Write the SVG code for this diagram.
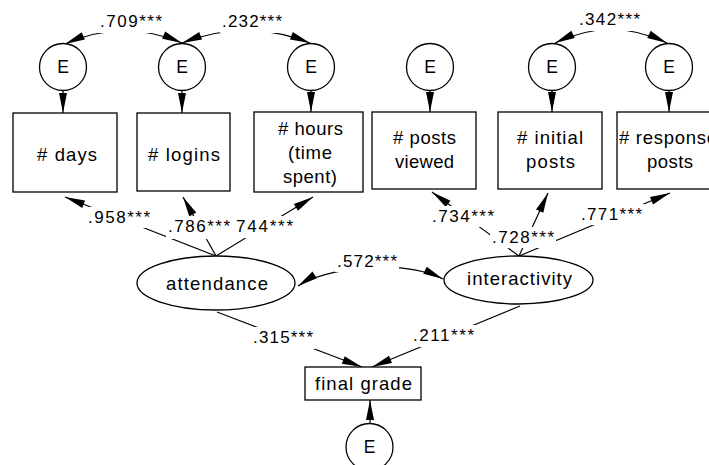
<svg xmlns="http://www.w3.org/2000/svg" width="709" height="465" viewBox="0 0 709 465">
<defs>
<style>
.box{fill:#fff;stroke:#000;stroke-width:1.3}
.t{font-family:"Liberation Sans",Arial,sans-serif;font-size:18.5px;fill:#000}
.e{font-family:"Liberation Sans",Arial,sans-serif;font-size:17.5px;fill:#000;text-anchor:middle}
.lab{font-family:"Liberation Sans",Arial,sans-serif;font-size:17px;fill:#000}
.mask{fill:#fff}
.c{fill:none;stroke:#000;stroke-width:1.2}
.arr{marker-end:url(#ah)}
.cov{marker-start:url(#ah);marker-end:url(#ah)}
</style>
<marker id="ah" markerUnits="userSpaceOnUse" markerWidth="21" markerHeight="9" refX="20" refY="4" orient="auto-start-reverse" overflow="visible"><path d="M0,0 L20,4 L0,8 Z" fill="#000"/></marker>
</defs>
<rect width="709" height="465" fill="#fff"/>
<g id="connectors">
<path class="c arr" d="M63 91 L63 113"/>
<path class="c arr" d="M182 91 L182 113"/>
<path class="c arr" d="M311 91 L311 112"/>
<path class="c arr" d="M430 91 L430 112"/>
<path class="c arr" d="M552 91 L552 112"/>
<path class="c arr" d="M669 91 L669 112"/>
<path class="c arr" d="M216 256 L65 197"/>
<path class="c arr" d="M216 256 L183 197"/>
<path class="c arr" d="M216 256 L313 197"/>
<path class="c arr" d="M519 256 L432 192"/>
<path class="c arr" d="M519 256 L548 193"/>
<path class="c arr" d="M519 256 L670 193"/>
<path class="c arr" d="M217 312 L362 367"/>
<path class="c arr" d="M520 306 L372 367"/>
<path class="c arr" d="M370 424 L370 400"/>
<path class="c cov" d="M65 44 Q124 18 182 43"/>
<path class="c cov" d="M182 43 Q246 18 310 43"/>
<path class="c cov" d="M555 43 Q611 16 667 43"/>
<path class="c cov" d="M298 286 C325 268 400 258 443 279"/>
</g>
<g id="labels">
<rect class="mask" x="98" y="11" width="66" height="22"/><text class="lab" x="100" y="27" textLength="62" lengthAdjust="spacing">.709***</text>
<rect class="mask" x="220" y="11" width="64" height="22"/><text class="lab" x="222" y="27" textLength="60" lengthAdjust="spacing">.232***</text>
<rect class="mask" x="577" y="9" width="65" height="22"/><text class="lab" x="579" y="25" textLength="61" lengthAdjust="spacing">.342***</text>
<rect class="mask" x="86" y="207" width="66" height="21"/><text class="lab" x="88" y="223" textLength="62" lengthAdjust="spacing">.958***</text>
<rect class="mask" x="166" y="216" width="66" height="23"/><text class="lab" x="168" y="232" textLength="62" lengthAdjust="spacing">.786***</text>
<rect class="mask" x="234" y="216" width="61" height="22"/><text class="lab" x="236" y="232" textLength="57" lengthAdjust="spacing">744***</text>
<rect class="mask" x="430" y="206" width="66" height="21"/><text class="lab" x="432" y="222" textLength="62" lengthAdjust="spacing">.734***</text>
<rect class="mask" x="490" y="227" width="66" height="21"/><text class="lab" x="492" y="243" textLength="62" lengthAdjust="spacing">.728***</text>
<rect class="mask" x="579" y="204" width="65" height="21"/><text class="lab" x="581" y="220" textLength="61" lengthAdjust="spacing">.771***</text>
<rect class="mask" x="335" y="251" width="64" height="21"/><text class="lab" x="337" y="267" textLength="60" lengthAdjust="spacing">.572***</text>
<rect class="mask" x="251" y="327" width="64" height="22"/><text class="lab" x="253" y="343" textLength="60" lengthAdjust="spacing">.315***</text>
<rect class="mask" x="411" y="325" width="65" height="22"/><text class="lab" x="413" y="341" textLength="61" lengthAdjust="spacing">.211***</text>
</g>
<g id="e1"><circle class="box" cx="63" cy="67" r="23.5"/><text class="e" x="63" y="73">E</text></g>
<g id="e2"><circle class="box" cx="182" cy="67" r="23.5"/><text class="e" x="182" y="73">E</text></g>
<g id="e3"><circle class="box" cx="311" cy="67" r="23.5"/><text class="e" x="311" y="73">E</text></g>
<g id="e4"><circle class="box" cx="430" cy="67" r="23.5"/><text class="e" x="430" y="73">E</text></g>
<g id="e5"><circle class="box" cx="552" cy="67" r="23.5"/><text class="e" x="552" y="73">E</text></g>
<g id="e6"><circle class="box" cx="669" cy="67" r="23.5"/><text class="e" x="669" y="73">E</text></g>
<g id="days"><rect class="box" x="13" y="113" width="104" height="79"/><text class="t" x="37" y="161" textLength="60" lengthAdjust="spacing"># days</text></g>
<g id="logins"><rect class="box" x="137" y="113" width="93" height="78"/><text class="t" x="148" y="161" textLength="72" lengthAdjust="spacing"># logins</text></g>
<g id="hours"><rect class="box" x="254" y="112" width="109" height="80"/><text class="t" x="278" y="135" textLength="65" lengthAdjust="spacing"># hours</text><text class="t" x="288" y="159" textLength="44" lengthAdjust="spacing">(time</text><text class="t" x="283" y="183" textLength="54" lengthAdjust="spacing">spent)</text></g>
<g id="posts_viewed"><rect class="box" x="372" y="112" width="104" height="77"/><text class="t" x="393" y="144" textLength="63" lengthAdjust="spacing"># posts</text><text class="t" x="395" y="168" textLength="59" lengthAdjust="spacing">viewed</text></g>
<g id="initial_posts"><rect class="box" x="498" y="112" width="104" height="77"/><text class="t" x="517" y="144" textLength="66" lengthAdjust="spacing"># initial</text><text class="t" x="526" y="168" textLength="49" lengthAdjust="spacing">posts</text></g>
<g id="response_posts"><rect class="box" x="617" y="112" width="104" height="77"/><text class="t" x="619" y="144" textLength="98" lengthAdjust="spacing"># response</text><text class="t" x="647" y="168" textLength="46" lengthAdjust="spacing">posts</text></g>
<g id="attendance"><ellipse class="box" cx="216" cy="283" rx="79" ry="27"/><text class="t" x="166" y="290" textLength="102" lengthAdjust="spacing">attendance</text></g>
<g id="interactivity"><ellipse class="box" cx="518.5" cy="280" rx="74.5" ry="24"/><text class="t" x="467" y="285" textLength="105" lengthAdjust="spacing">interactivity</text></g>
<g id="final_grade"><rect class="box" x="305" y="367" width="116" height="33"/><text class="t" x="315" y="390" textLength="97" lengthAdjust="spacing">final grade</text></g>
<g id="e7"><circle class="box" cx="369.5" cy="447" r="23.5"/><text class="e" x="369.5" y="453">E</text></g>
</svg>
